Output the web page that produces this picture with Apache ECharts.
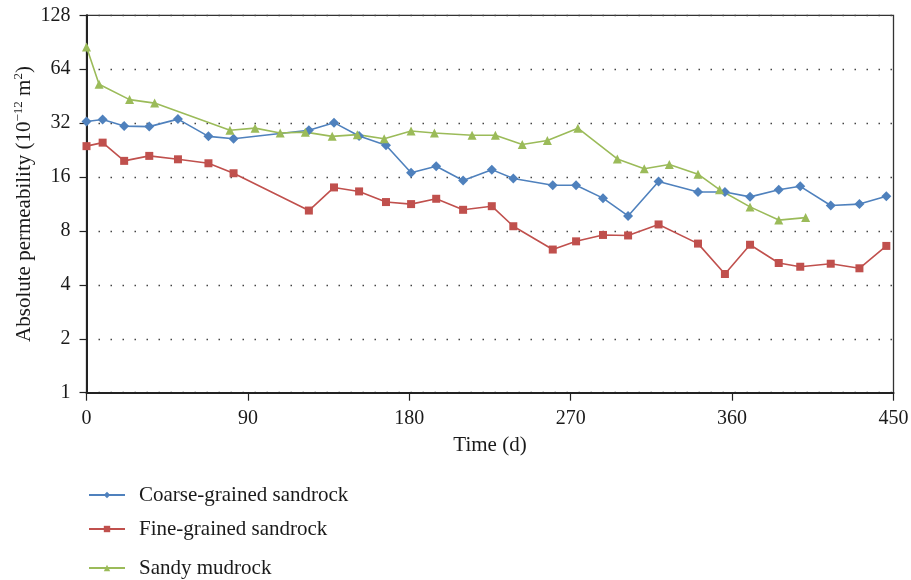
<!DOCTYPE html>
<html lang="en">
<head>
    <meta charset="UTF-8">
    <title>Absolute permeability vs time</title>
    <script src="https://cdn.jsdelivr.net/npm/echarts@6/dist/echarts.min.js"></script>
</head>
<body style="margin:0;">
<div id="mybox" style="height: 580px;width: 911px;"></div>
<script>
    // sampling days (coarse + fine share the same days)
    var days = [0, 9, 21, 35, 51, 68, 82, 124, 138, 152, 167, 181, 195, 210, 226, 238, 260, 273, 288, 302, 319, 341, 356, 370, 386, 398, 415, 431, 446];
    var coarseVals = [32.7, 33.5, 30.8, 30.6, 33.7, 27.0, 26.2, 29.2, 32.2, 27.1, 24.1, 16.9, 18.4, 15.3, 17.6, 15.7, 14.4, 14.4, 12.2, 9.7, 15.1, 13.2, 13.2, 12.4, 13.6, 14.2, 11.1, 11.3, 12.5];
    var fineVals = [23.8, 24.9, 19.7, 21.0, 20.1, 19.1, 16.8, 10.4, 14.0, 13.3, 11.6, 11.3, 12.1, 10.5, 11.0, 8.5, 6.3, 7.0, 7.6, 7.55, 8.7, 6.8, 4.6, 6.7, 5.3, 5.05, 5.25, 4.95, 6.6];
    // sandy mudrock has its own days
    var mudDays = [0, 7, 24, 38, 80, 94, 108, 122, 137, 151, 166, 181, 194, 215, 228, 243, 257, 274, 296, 311, 325, 341, 353, 370, 386, 401];
    var mudVals = [85.2, 52.7, 43.3, 41.4, 29.2, 30.0, 28.2, 28.5, 27.0, 27.6, 26.2, 28.9, 28.2, 27.4, 27.4, 24.3, 25.6, 30.0, 20.2, 17.8, 18.8, 16.6, 13.6, 10.9, 9.2, 9.5];
    var xTicks = [0, 90, 180, 270, 360, 450];
    var names = ['Coarse-grained sandrock', 'Fine-grained sandrock', 'Sandy mudrock'];

    function pairs(xs, ys) {
        var out = [];
        for (var i = 0; i < ys.length; i++) {
            out.push([xs[i], ys[i]]);
        }
        return out;
    }

    var font = 'Liberation Serif';
    var txt = '#1a1a1a';

    // one legend per row, the rows are not evenly spaced in the original
    function oneLegend(name, top) {
        return {
            data: [name],
            left: 88,
            top: top,
            padding: 0,
            orient: 'horizontal',
            itemWidth: 36,
            itemHeight: 8,
            textStyle: {fontFamily: font, fontSize: 21, color: txt, padding: [0, 0, 0, 9]}
        };
    }

    var mychart = echarts.init(document.getElementById('mybox'));
    mychart.setOption({
        animation: false,
        color: ['#4F81BD', '#C0504D', '#9BBB59'],
        grid: {
            left: 86.5, top: 15.3, right: 17.5, bottom: 187.3,
            outerBoundsMode: 'none',
            show: true, borderColor: '#333', borderWidth: 1.3
        },
        legend: [
            oneLegend(names[0], 484.5),
            oneLegend(names[1], 518.5),
            oneLegend(names[2], 557.5)
        ],
        xAxis: {
            type: 'value',
            min: xTicks[0],
            max: xTicks[xTicks.length - 1],
            interval: 90,
            name: 'Time (d)',
            nameLocation: 'middle',
            nameGap: 42,
            nameMoveOverlap: false,
            nameTextStyle: {fontFamily: font, fontSize: 21, color: txt},
            axisLine: {lineStyle: {color: '#222', width: 2}},
            axisTick: {length: 8, lineStyle: {color: '#222', width: 1.2}},
            axisLabel: {fontFamily: font, fontSize: 20, color: txt, margin: 16},
            splitLine: {show: false}
        },
        yAxis: {
            type: 'log',
            logBase: 2,
            min: 1,
            max: 128,
            name: 'Absolute permeability (10{sup|\u221212} m{sup|2})',
            nameLocation: 'middle',
            nameGap: 50,
            nameMoveOverlap: false,
            nameTextStyle: {
                fontFamily: font, fontSize: 21, color: txt, lineHeight: 24,
                rich: {sup: {fontFamily: font, fontSize: 13, verticalAlign: 'top', lineHeight: 24, color: txt}}
            },
            axisLine: {show: true, lineStyle: {color: '#222', width: 2}},
            axisTick: {show: true, length: 7, lineStyle: {color: '#222', width: 1.2}},
            axisLabel: {fontFamily: font, fontSize: 20, color: txt, margin: 16},
            splitLine: {show: true, lineStyle: {color: '#444', type: [1.5, 10.5], width: 1.3}}
        },
        series: [{
            name: names[0],
            type: 'line',
            data: pairs(days, coarseVals),
            symbol: 'diamond',
            symbolSize: 10,
            lineStyle: {width: 1.6},
            emphasis: {disabled: true}
        }, {
            name: names[1],
            type: 'line',
            data: pairs(days, fineVals),
            symbol: 'rect',
            symbolSize: 8,
            lineStyle: {width: 1.6},
            emphasis: {disabled: true}
        }, {
            name: names[2],
            type: 'line',
            data: pairs(mudDays, mudVals),
            symbol: 'triangle',
            symbolSize: 9,
            lineStyle: {width: 1.6},
            emphasis: {disabled: true}
        }]
    });
</script>
</body>
</html>
